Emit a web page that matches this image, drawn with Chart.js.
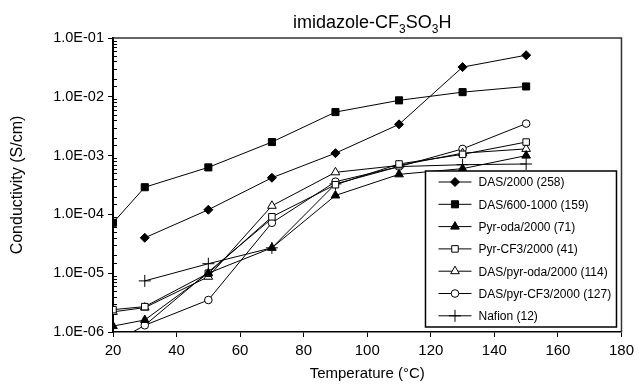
<!DOCTYPE html>
<html>
<head>
<meta charset="utf-8">
<script src="https://cdn.jsdelivr.net/npm/chart.js@4/dist/chart.umd.min.js"></script>
<style>
  html, body { margin: 0; padding: 0; background: #fff; }
  #wrap { width: 639px; height: 389px; position: relative; }
</style>
</head>
<body>
<div id="wrap"><canvas id="chart" width="639" height="389"></canvas></div>
<script>
(function() {
    'use strict';

    // temperatures (°C) shared by every series
    const temps = [20, 30, 50, 70, 90, 110, 130, 150];

    // conductivity (S/cm), null = not measured
    const das2000    = [null, 4.0e-5, 1.2e-4, 4.2e-4, 1.1e-3, 3.4e-3, 3.2e-2, 5.1e-2];
    const das6001000 = [7.2e-5, 2.9e-4, 6.3e-4, 1.7e-3, 5.5e-3, 8.7e-3, 1.2e-2, 1.5e-2];
    const pyrOda     = [1.26e-6, 1.6e-6, 1.0e-5, 2.7e-5, 2.1e-4, 4.8e-4, 6.0e-4, 1.0e-3];
    const pyrCF3     = [2.4e-6, 2.7e-6, 1.0e-5, 9.1e-5, 3.2e-4, 7.2e-4, 1.05e-3, 1.7e-3];
    const dasPyrOda  = [2.2e-6, 2.6e-6, 8.7e-6, 1.4e-4, 5.2e-4, 6.8e-4, 1.1e-3, 1.3e-3];
    const dasPyrCF3  = [null, 1.3e-6, 3.5e-6, 7.2e-5, 3.6e-4, 6.5e-4, 1.3e-3, 3.5e-3];
    const nafion     = [null, 7.4e-6, 1.45e-5, 2.7e-5, 3.3e-4, 6.5e-4, 7.0e-4, 7.2e-4];

    // stray unlabelled trace running up from below the axis
    const strayTemps = [20, 30, 70];
    const strayVals  = [6.5e-7, 1.3e-6, 8.5e-5];

    const seriesLabels = [
        'DAS/2000 (258)',
        'DAS/600-1000 (159)',
        'Pyr-oda/2000 (71)',
        'Pyr-CF3/2000 (41)',
        'DAS/pyr-oda/2000 (114)',
        'DAS/pyr-CF3/2000 (127)',
        'Nafion (12)'
    ];

    const xTicks = [20, 40, 60, 80, 100, 120, 140, 160, 180];

    const FONT = '"Liberation Sans", Arial, sans-serif';

    function toPoints(xs, ys) {
        const pts = [];
        ys.forEach(function(v, i) {
            if (v !== null) pts.push({ x: xs[i], y: v });
        });
        return pts;
    }

    const markerStyles = [
        { pointStyle: 'rectRot', radius: 4.5, fill: '#000' },
        { pointStyle: 'rect', radius: 5, fill: '#000' },
        { pointStyle: 'triangle', radius: 5, fill: '#000' },
        { pointStyle: 'rect', radius: 4.6, fill: '#fff' },
        { pointStyle: 'triangle', radius: 5, fill: '#fff' },
        { pointStyle: 'circle', radius: 3.8, fill: '#fff' },
        { pointStyle: 'cross', radius: 6, fill: '#000' }
    ];

    const allSeries = [das2000, das6001000, pyrOda, pyrCF3, dasPyrOda, dasPyrCF3, nafion];

    const datasets = allSeries.map(function(vals, i) {
        const m = markerStyles[i];
        return {
            label: seriesLabels[i],
            data: toPoints(temps, vals),
            borderColor: '#000',
            backgroundColor: m.fill,
            borderWidth: 1,
            pointStyle: m.pointStyle,
            pointRadius: m.radius,
            pointBorderWidth: 1,
            pointBackgroundColor: m.fill,
            pointBorderColor: '#000',
            pointHoverRadius: m.radius,
            tension: 0
        };
    });
    datasets.push({
        label: '',
        data: toPoints(strayTemps, strayVals),
        borderColor: '#000',
        borderWidth: 1,
        pointRadius: 0,
        tension: 0
    });

    function isDecade(v) {
        const e = Math.log10(v);
        return Math.abs(e - Math.round(e)) < 1e-6;
    }

    function fmtExp(v) {
        const e = Math.round(Math.log10(v));
        const abs = Math.abs(e);
        return '1.0E' + (e < 0 ? '-' : '+') + (abs < 10 ? '0' : '') + abs;
    }

    // title with real subscripts, minor inner ticks, plot frame
    const decorPlugin = {
        id: 'decor',
        beforeDatasetsDraw(chart) {
            const ctx = chart.ctx;
            const area = chart.chartArea;
            const yScale = chart.scales.y;
            ctx.save();
            ctx.strokeStyle = '#000';
            ctx.lineWidth = 1;
            yScale.ticks.forEach(function(t) {
                if (isDecade(t.value)) return;
                const py = Math.round(yScale.getPixelForValue(t.value)) + 0.5;
                ctx.beginPath();
                ctx.moveTo(area.left, py);
                ctx.lineTo(area.left + 4, py);
                ctx.stroke();
            });
            ctx.strokeStyle = '#333';
            ctx.lineWidth = 1.5;
            ctx.beginPath();
            ctx.moveTo(area.left, area.top);
            ctx.lineTo(area.right, area.top);
            ctx.lineTo(area.right, area.bottom);
            ctx.stroke();
            ctx.restore();
        },
        afterDraw(chart) {
            const ctx = chart.ctx;
            const area = chart.chartArea;
            const parts = [
                ['imidazole-CF', false], ['3', true], ['SO', false], ['3', true], ['H', false]
            ];
            const big = '18px ' + FONT;
            const small = '12px ' + FONT;
            ctx.save();
            let total = 0;
            parts.forEach(function(p) {
                ctx.font = p[1] ? small : big;
                total += ctx.measureText(p[0]).width;
            });
            let x = (area.left + area.right) / 2 + 5 - total / 2;
            const base = area.top - 10;
            ctx.fillStyle = '#000';
            ctx.textBaseline = 'alphabetic';
            parts.forEach(function(p) {
                ctx.font = p[1] ? small : big;
                ctx.fillText(p[0], x, p[1] ? base + 5 : base);
                x += ctx.measureText(p[0]).width;
            });
            ctx.restore();
        }
    };

    // boxed legend sitting in the lower right of the plot
    const boxLegendPlugin = {
        id: 'boxLegend',
        afterDatasetsDraw(chart) {
            const ctx = chart.ctx;
            const area = chart.chartArea;
            const right = area.right - 5;
            const bottom = area.bottom - 5;
            const left = right - 191;
            const top = bottom - 156;
            ctx.save();
            ctx.fillStyle = '#fff';
            ctx.fillRect(left, top, right - left, bottom - top);
            ctx.strokeStyle = '#000';
            ctx.lineWidth = 1.5;
            ctx.strokeRect(left, top, right - left, bottom - top);
            ctx.font = '12px ' + FONT;
            ctx.textBaseline = 'middle';
            seriesLabels.forEach(function(label, i) {
                const ds = chart.data.datasets[i];
                const cy = top + 11 + i * 22.3;
                const x0 = left + 13;
                const x1 = left + 46;
                ctx.strokeStyle = '#000';
                ctx.lineWidth = 1;
                ctx.beginPath();
                ctx.moveTo(x0, cy);
                ctx.lineTo(x1, cy);
                ctx.stroke();
                ctx.fillStyle = ds.pointBackgroundColor;
                Chart.helpers.drawPoint(ctx, {
                    pointStyle: ds.pointStyle,
                    radius: ds.pointRadius,
                    borderWidth: 1,
                    rotation: 0
                }, (x0 + x1) / 2, cy);
                ctx.fillStyle = '#000';
                ctx.fillText(label, left + 53, cy + 1);
            });
            ctx.restore();
        }
    };

    const canvas = document.getElementById('chart');
    new Chart(canvas.getContext('2d'), {
        type: 'line',
        data: { datasets: datasets },
        plugins: [decorPlugin, boxLegendPlugin],
        options: {
            responsive: false,
            animation: false,
            devicePixelRatio: 1,
            layout: { padding: { top: 38, right: 16, left: 0, bottom: 0 } },
            plugins: {
                legend: { display: false },
                title: { display: false },
                tooltip: { enabled: false }
            },
            scales: {
                x: {
                    type: 'linear',
                    min: 20,
                    max: 180,
                    afterBuildTicks(scale) {
                        scale.ticks = xTicks.map(function(v) { return { value: v }; });
                    },
                    afterFit(scale) { scale.height = 57; },
                    ticks: {
                        color: '#000',
                        font: { family: FONT, size: 15 },
                        padding: 5,
                        maxRotation: 0
                    },
                    grid: {
                        drawOnChartArea: false,
                        color: '#000',
                        tickLength: 5
                    },
                    border: { color: '#000', width: 1.5 },
                    title: {
                        display: true,
                        text: 'Temperature (\u00B0C)',
                        color: '#000',
                        font: { family: FONT, size: 15 },
                        padding: { top: 2, bottom: 6 }
                    }
                },
                y: {
                    type: 'logarithmic',
                    min: 1e-6,
                    max: 1e-1,
                    afterFit(scale) { scale.width = 113; },
                    ticks: {
                        autoSkip: false,
                        color: '#000',
                        font: { family: FONT, size: 14.5 },
                        padding: 4,
                        callback: function(value) {
                            return isDecade(value) ? fmtExp(value) : '';
                        }
                    },
                    grid: {
                        drawOnChartArea: false,
                        tickLength: 5,
                        tickColor: function(c) {
                            return c.tick && isDecade(c.tick.value) ? '#000' : 'rgba(0,0,0,0)';
                        }
                    },
                    border: { color: '#000', width: 2 },
                    title: {
                        display: true,
                        text: 'Conductivity (S/cm)',
                        color: '#000',
                        font: { family: FONT, size: 16 },
                        padding: { top: 8, bottom: 0 }
                    }
                }
            }
        }
    });
})();
</script>
</body>
</html>
